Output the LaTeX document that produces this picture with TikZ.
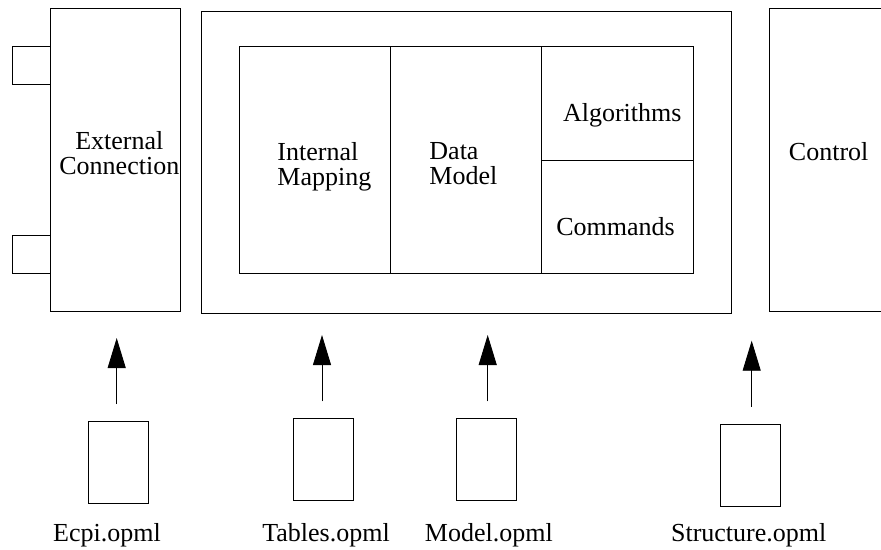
\documentclass[tikz,border=0pt]{standalone}
\usepackage{fontspec}
\setmainfont{Liberation Serif}
\usepackage{tikz}
\usetikzlibrary{positioning,arrows.meta}

\begin{document}
\begin{tikzpicture}[x=1pt, y=-1pt, line width=0.9pt,
    every node/.style={font=\fontsize{26pt}{25pt}\selectfont, inner sep=0pt},
    box/.style={draw, rectangle, inner sep=0pt},
    docbox/.style={box, minimum width=60pt, minimum height=82pt},
    portbox/.style={box, minimum width=38pt, minimum height=38pt},
    flow/.style={-{Triangle[length=30pt, width=18pt]}, shorten <=17pt}]
    \useasboundingbox (0,0) rectangle (881,549);
    \clip (0,0) rectangle (881,549);

    % External connection with its two ports
    \node[box, minimum width=130pt, minimum height=302.7pt] (ext) at (115.3,159.7) {};
    \node[portbox] (porta) at (31.3,65) {};
    \node[portbox] (portb) at (31.3,254) {};
    \node[align=center, anchor=north] (extlbl) at (119.3,131) {External\\Connection};

    % Model block and its inner parts
    \node[box, minimum width=529.3pt, minimum height=302pt] (model) at (466.4,162) {};
    \node[box, minimum width=151.4pt, minimum height=227pt] (mapping) at (315,159.5) {};
    \node[box, minimum width=151pt, minimum height=227pt] (datamodel) at (466.2,159.5) {};
    \node[box, minimum width=151.6pt, minimum height=114pt] (algo) at (617.5,103) {};
    \node[box, minimum width=151.6pt, minimum height=113pt] (cmds) at (617.5,216.5) {};
    \node[align=left, anchor=north west] (maplbl) at (277,142) {Internal\\Mapping};
    \node[align=left, anchor=north west] (dmlbl) at (429,142) {Data\\Model};
    \node[anchor=base] (algolbl) at (622.3,121.7) {Algorithms};
    \node[anchor=base] (cmdslbl) at (615.5,235) {Commands};

    % Control (runs off the right edge)
    \node[box, minimum width=200pt, minimum height=302.7pt, anchor=north west] (ctrl) at (768.7,8.3) {};
    \node[anchor=base] (ctrllbl) at (828.7,160) {Control};

    % Input files and their arrows
    \foreach \n/\dx/\dy/\ax/\ay/\lx/\txt in {
        1/118/462.5/116.7/338/107/Ecpi.opml,
        2/323.3/459.9/322/335/326/Tables.opml,
        3/486/459.9/487.7/335/488.8/Model.opml,
        4/750/465/751.7/340.7/748.7/Structure.opml} {
      \node[docbox] (doc\n) at (\dx,\dy) {};
      \coordinate (tip\n) at (\ax,\ay);
      \draw[flow] (doc\n.north -| tip\n) -- (tip\n);
      \node[anchor=base] (lbl\n) at (\lx,541.7) {\txt};
    }
\end{tikzpicture}
\end{document}
